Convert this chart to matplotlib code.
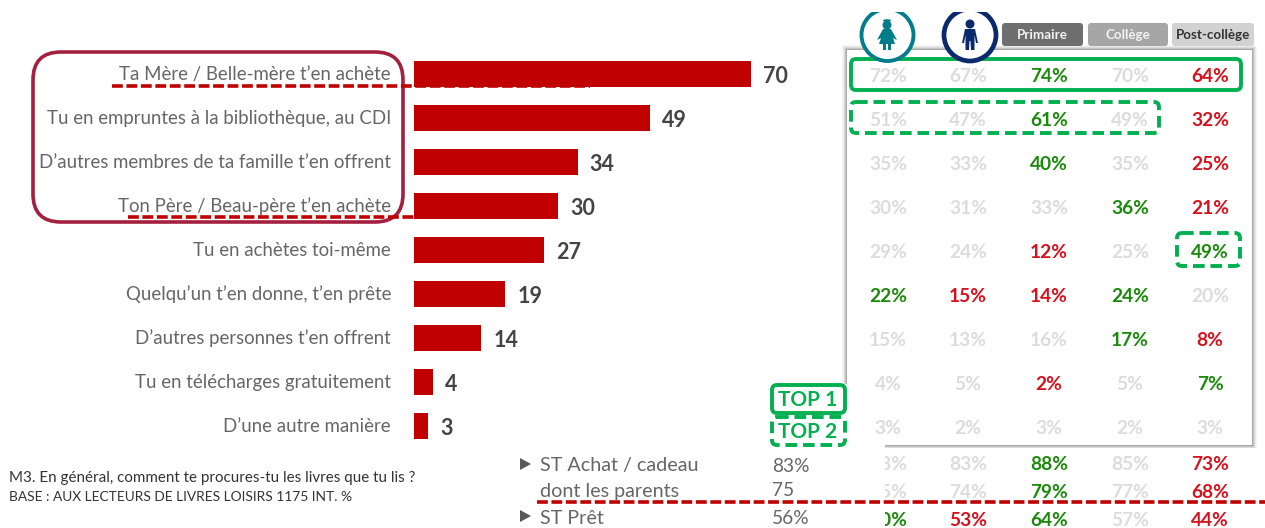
import matplotlib
matplotlib.use("Agg")
import matplotlib.pyplot as plt
from matplotlib.patches import Circle, Ellipse, FancyBboxPatch, Polygon, Rectangle

W, H = 1265, 528

plt.rcParams["font.family"] = ["Lato", "DejaVu Sans"]

# --- data ---
categories = [
    "Ta Mère / Belle-mère t’en achète",
    "Tu en empruntes à la bibliothèque, au CDI",
    "D’autres membres de ta famille t’en offrent",
    "Ton Père / Beau-père t’en achète",
    "Tu en achètes toi-même",
    "Quelqu’un t’en donne, t’en prête",
    "D’autres personnes t’en offrent",
    "Tu en télécharges gratuitement",
    "D’une autre manière",
]
totals = [70, 49, 34, 30, 27, 19, 14, 4, 3]

headers = ["Primaire", "Collège", "Post-collège"]
table_values = [
    [72, 67, 74, 70, 64],
    [51, 47, 61, 49, 32],
    [35, 33, 40, 35, 25],
    [30, 31, 33, 36, 21],
    [29, 24, 12, 25, 49],
    [22, 15, 14, 24, 20],
    [15, 13, 16, 17, 8],
    [4, 5, 2, 5, 7],
    [3, 2, 3, 2, 3],
]
table_flags = [
    "nngnr", "nngnr", "nngnr", "nnngr", "nnrng",
    "grrgn", "nnngr", "nnrng", "nnnnn",
]

sub_labels = ["ST Achat / cadeau", "dont les parents", "ST Prêt"]
sub_totals = ["83%", "75", "56%"]
sub_values = [
    [83, 83, 88, 85, 73],
    [75, 74, 79, 77, 68],
    [60, 53, 64, 57, 44],
]
sub_flags = ["nngnr", "nngnr", "grgnr"]

notes = [
    "M3. En général, comment te procures-tu les livres que tu lis ?",
    "BASE : AUX LECTEURS DE LIVRES LOISIRS 1175 INT. %",
]

# --- colours ---
BAR_RED = "#c00000"
LABEL = "#666666"
VALUE = "#444444"
GREEN_BOX = "#00b050"
FLAG = {"n": "#dcdcdc", "g": "#1a8a0a", "r": "#d8101c"}
TEAL = "#007d8a"
NAVY = "#0b2a6b"
COL_X = [888, 968, 1049, 1130, 1210]

fig = plt.figure(figsize=(W / 100, H / 100), dpi=100, facecolor="white")

# --- bars ---
ax = fig.add_axes([414 / W, 1 - 448 / H, 400 / W, 396 / H])
ax.set_xlim(0, 400 / 4.814)
ax.set_ylim(len(totals) - 0.5, -0.5)
ax.barh(range(len(totals)), totals, height=0.59, color=BAR_RED)
ax.set_xticks([])
ax.set_yticks([])
for s in ax.spines.values():
    s.set_visible(False)
ax.patch.set_alpha(0)
for i, (cat, v) in enumerate(zip(categories, totals)):
    ax.annotate(cat, (0, i), xytext=(-16.5, -0.3), textcoords="offset points",
                ha="right", va="center", fontsize=13.4, color=LABEL, annotation_clip=False)
    ax.annotate(str(v), (v, i), xytext=(8.5, -1.6), textcoords="offset points",
                ha="left", va="center", fontsize=15.5, fontweight="bold", color=VALUE)

# --- overlay in pixels ---
ov = fig.add_axes([0, 0, 1, 1], zorder=5)
ov.set_xlim(0, W)
ov.set_ylim(H, 0)
ov.axis("off")

# panel with soft shadow
for grow, a in [(5, 0.05), (4, 0.07), (3, 0.1), (2, 0.16), (1, 0.25)]:
    ov.add_patch(Rectangle((847 - grow, 50 - grow), 405 + 2 * grow, 395 + 2 * grow,
                           fc="#555555", ec="none", alpha=a, zorder=1))
ov.add_patch(Rectangle((847, 50), 405, 395, fc="white", ec="none", zorder=2))
ov.add_patch(Rectangle((772, 448), 493, 80, fc="white", ec="none", zorder=2))


def pct_row(y, vals, flags):
    for x, v, f in zip(COL_X, vals, flags):
        ov.text(x, y, f"{v}%", ha="center", va="center", fontsize=13.8,
                fontweight="bold", color=FLAG[f], zorder=3)


for i, (vals, flags) in enumerate(zip(table_values, table_flags)):
    pct_row(77 + 44 * i, vals, flags)
for y, vals, flags in zip([465, 492, 520], sub_values, sub_flags):
    pct_row(y, vals, flags)

# white patch hiding the start of the sub-total first column
ov.add_patch(Rectangle((772, 443), 113, 85, fc="white", ec="none", zorder=4))

# sub-totals
for y, lab, tot in zip([466, 491, 518], sub_labels, sub_totals):
    ov.text(540, y, lab, ha="left", va="center", fontsize=14.2, color=LABEL, zorder=5)
    ov.text(772, y, tot, ha="left", va="center", fontsize=13.8, color=LABEL, zorder=5)
for y in [464, 516]:
    ov.add_patch(Polygon([(520, y - 6), (520, y + 6), (531, y)], fc="#595959", ec="none", zorder=5))

# notes
for y, line, size in zip([478, 497], notes, [10.9, 9.9]):
    ov.text(9, y, line, ha="left", va="center", fontsize=size, color="#333333", zorder=5)


def round_box(x0, y0, x1, y1, color, lw=2.8, ls="-", rad=5, z=6):
    ov.add_patch(FancyBboxPatch((x0 + rad, y0 + rad), x1 - x0 - 2 * rad, y1 - y0 - 2 * rad,
                                boxstyle=f"round,pad={rad},rounding_size={rad}",
                                fc="none", ec=color, lw=lw, ls=ls, zorder=z))


# highlight boxes
round_box(33, 52, 403, 222, "#a3213f", lw=2.6, rad=28)
round_box(851, 59, 1241, 90, GREEN_BOX)
round_box(851, 102, 1159, 133, GREEN_BOX, ls=(0, (3, 1.5)))
round_box(1177, 233, 1240, 266, GREEN_BOX, ls=(0, (3, 1.5)))
ov.add_patch(Rectangle((771, 384), 76, 61, fc="white", ec="none", zorder=5))
round_box(772, 385, 845, 413, GREEN_BOX)
round_box(772, 417, 845, 445, GREEN_BOX, ls=(0, (3, 1.5)))
ov.text(808, 400, "TOP 1", ha="center", va="center", fontsize=15, fontweight="bold",
        color=GREEN_BOX, zorder=7)
ov.text(808, 432, "TOP 2", ha="center", va="center", fontsize=15, fontweight="bold",
        color=GREEN_BOX, zorder=7)

# red dashed lines
for x0, x1, y in [(112, 590, 85.5), (128, 530, 217), (537, 1265, 502)]:
    ov.plot([x0, x1], [y, y], color=BAR_RED, lw=2.6, ls=(0, (3, 1)), zorder=6)

# header buttons
for (x0, x1, fc), lab, tc in zip(
    [(1002, 1083, "#6e6e6e"), (1088, 1168, "#a6a6a6"), (1172, 1254, "#d2d2d2")],
    headers, ["#f2f2f2", "#f2f2f2", "#333333"],
):
    ov.add_patch(FancyBboxPatch((x0 + 3, 26), x1 - x0 - 6, 17,
                                boxstyle="round,pad=3,rounding_size=3", fc=fc, ec="none", zorder=6))
    ov.text((x0 + x1) / 2, 35, lab, ha="center", va="center", fontsize=9.6,
            fontweight="bold", color=tc, zorder=7)

# icons
ov.add_patch(Circle((887.5, 35), 26, fc="white", ec=TEAL, lw=2.8, zorder=6))
ov.add_patch(Circle((970, 35), 26, fc="white", ec=NAVY, lw=3.4, zorder=6))
ov.add_patch(Rectangle((850, 0), 160, 12, fc="white", ec="none", zorder=7))
# girl
ov.add_patch(Circle((887, 25), 4.5, fc=TEAL, ec="none", zorder=7))
ov.add_patch(Ellipse((887, 20.5), 8, 2.5, fc=TEAL, ec="none", zorder=7))
ov.add_patch(Polygon([(883, 29), (891, 29), (897, 40), (893, 38), (895, 44), (891, 44),
                      (891, 50), (888, 50), (888, 44), (886, 44), (886, 50), (883, 50),
                      (883, 44), (879, 44), (881, 38), (877, 40)],
                     fc=TEAL, ec="none", zorder=7))
# boy
ov.add_patch(Circle((970, 24), 4.5, fc=NAVY, ec="none", zorder=7))
ov.add_patch(Polygon([(965, 29), (975, 29), (978, 43), (976, 43), (974.5, 35), (974.5, 50),
                      (971, 50), (970.5, 41), (969.5, 41), (969, 50), (965.5, 50),
                      (965.5, 35), (964, 43), (962, 43)],
                     fc=NAVY, ec="none", zorder=7))

fig.savefig("out.png", dpi=100, facecolor="white")
